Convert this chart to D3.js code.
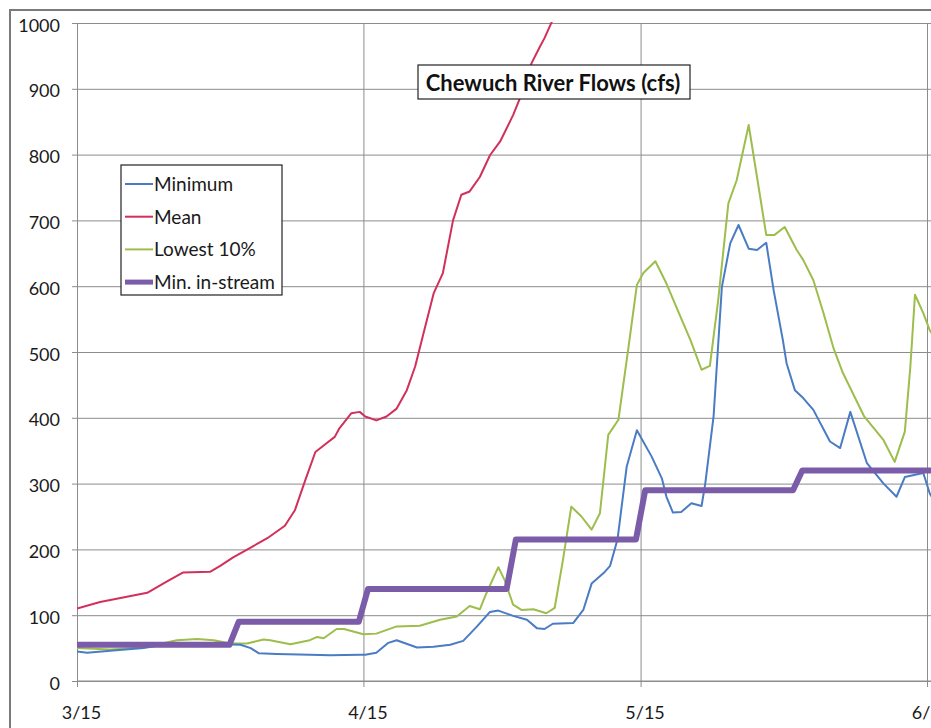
<!DOCTYPE html>
<html><head><meta charset="utf-8">
<script src="https://cdn.jsdelivr.net/npm/d3@7"></script>
<style>body{margin:0;background:#fff}svg{display:block}</style>
</head><body>
<svg id="chart" width="931" height="728"></svg>
<script>
// ---------- data (days since 3/15, values in cfs) ----------
const chartTitle = "Chewuch River Flows (cfs)";
const xTickDays = [0, 31, 61, 92];
const xTickLabels = ["3/15", "4/15", "5/15", "6/15"];
const yTickValues = [0, 100, 200, 300, 400, 500, 600, 700, 800, 900, 1000];
const seriesNames = ["Minimum", "Mean", "Lowest 10%", "Min. in-stream"];

const minimumDays = [0,1.1,3.6,7.2,9.4,10.8,15.9,17.7,18.8,19.7,21.6,25.2,27.4,30.7,31.2,32.4,33.7,34.6,36.8,38.6,40.4,41.8,43.3,44.7,45.6,47.2,48.7,49.8,50.6,51.5,53.7,54.8,55.7,57.0,57.7,58.5,59.5,60.6,62.2,63.3,63.8,64.5,65.4,66.5,67.6,68.0,68.9,69.8,70.7,71.6,72.7,73.6,74.6,75.4,76.4,76.8,77.7,78.6,79.7,81.5,82.6,83.7,85.5,87.3,88.7,89.6,91.6,92.3,93.0];
const minimumValues = [45,43,46,50,55,56,56,55,50,42,41,40,39,40,40,43,58,62,51,52,55,61,83,105,107,99,93,80,79,87,88,108,148,164,175,215,326,381,341,308,280,256,257,270,266,300,402,599,665,693,657,655,666,594,518,483,442,430,412,364,354,409,331,300,280,310,316,285,268];

const meanDays = [0,2.5,7.6,9.7,11.5,14.4,15.5,16.9,18.7,20.6,22.5,23.6,24.7,25.8,26.8,27.9,28.4,29.7,30.6,31.2,32.4,33.5,34.6,35.7,36.6,37.5,38.6,39.6,40.7,41.6,42.5,43.6,44.7,45.8,47.2,48.3,49.2,50.1,50.6,51.4,52.0];
const meanValues = [110,120,134,151,165,166,175,188,202,217,236,260,305,348,359,371,384,407,409,402,396,402,414,442,478,528,589,620,700,739,744,766,799,820,860,898,939,964,977,1002,1040];

const lowestDays = [0,3.6,7.2,10.8,13.0,14.8,16.6,18.4,20.2,20.9,23.1,25.2,26.0,26.7,28.1,28.9,31.0,32.4,34.6,37.1,39.3,41.1,42.5,43.6,44.3,45.6,46.3,47.2,48.1,49.4,50.8,51.7,52.6,53.5,54.6,55.7,56.6,57.5,58.6,59.7,60.6,61.3,62.6,63.8,65.3,66.4,67.6,68.5,69.4,70.5,71.4,72.7,73.6,74.6,75.5,76.6,77.9,78.6,79.7,80.8,81.9,82.9,85.2,87.3,88.5,89.6,90.2,90.7,91.6,92.3,93.0];
const lowestValues = [50,48,51,62,64,62,57,57,63,62,56,62,67,65,79,79,71,72,83,84,93,98,114,109,133,173,153,116,108,109,103,111,184,265,250,230,255,374,397,508,602,620,638,604,554,518,473,479,579,726,761,845,766,678,678,690,655,640,609,559,505,468,402,366,333,379,478,587,559,533,518];

const instreamDays = [0,16.5,17.5,30.5,31.5,46.5,47.5,60.5,61.5,77.5,78.5,95];
const instreamValues = [55,55,90,90,140,140,215,215,290,290,320,320];

const seriesColors = ["#4a7cc4", "#d2305a", "#9dbd4c", "#7a5ca8"];
const seriesWidths = [2, 2, 2, 6];

// ---------- layout ----------
(function draw() {
  const svg = d3.select("#chart");
  const pLeft = 77, pTop = 23, pBottom = 681, pRight = 945;
  const x = d3.scaleLinear().domain([0, 92]).range([77, 927]);
  const y = d3.scaleLinear().domain([0, 1000]).range([pBottom, pTop]);
  const font = "Lato, 'Open Sans', sans-serif";

  // outer chart border
  svg.append("rect").attr("x", 10).attr("y", 10).attr("width", 960).attr("height", 760)
    .attr("fill", "none").attr("stroke", "#7a7a7a").attr("stroke-width", 2);

  // horizontal gridlines
  svg.append("g").attr("transform", `translate(${pLeft},0)`)
    .call(d3.axisLeft(y).tickValues(yTickValues).tickSize(-(pRight - pLeft)).tickFormat(""))
    .call(g => g.select(".domain").remove())
    .call(g => g.selectAll("line").attr("stroke", "#8c8c8c").attr("stroke-width", 1));

  // vertical gridlines
  svg.append("g").attr("transform", `translate(0,${pBottom})`)
    .call(d3.axisBottom(x).tickValues(xTickDays).tickSize(-(pBottom - pTop)).tickFormat(""))
    .call(g => g.select(".domain").remove())
    .call(g => g.selectAll("line").attr("stroke", "#8c8c8c").attr("stroke-width", 1));

  // y axis (ticks + labels)
  svg.append("g").attr("transform", `translate(${pLeft},0)`)
    .call(d3.axisLeft(y).tickValues(yTickValues).tickSize(5).tickPadding(12).tickFormat(d3.format("d")))
    .call(g => g.select(".domain").attr("stroke", "#8c8c8c"))
    .call(g => g.selectAll("line").attr("stroke", "#8c8c8c"))
    .call(g => g.selectAll("text").attr("font-family", font).attr("font-size", 18)
      .attr("fill", "#1a1a1a").attr("dy", "0.45em"));

  // x axis (ticks + labels)
  svg.append("g").attr("transform", `translate(0,${pBottom})`)
    .call(d3.axisBottom(x).tickValues(xTickDays).tickSize(6).tickPadding(19)
      .tickFormat((d, i) => xTickLabels[i]))
    .call(g => g.select(".domain").attr("stroke", "#8c8c8c").attr("d", `M${pLeft},0H${pRight}`))
    .call(g => g.selectAll("line").attr("stroke", "#8c8c8c"))
    .call(g => g.selectAll("text").attr("font-family", font).attr("font-size", 18)
      .attr("fill", "#1a1a1a").attr("dx", 4));

  // clip for plot
  svg.append("clipPath").attr("id", "plotClip").append("rect")
    .attr("x", pLeft).attr("y", pTop - 1).attr("width", pRight - pLeft).attr("height", pBottom - pTop + 4);

  const line = d3.line().x(d => x(d[0])).y(d => y(d[1]));
  const seriesData = [
    d3.zip(minimumDays, minimumValues),
    d3.zip(meanDays, meanValues),
    d3.zip(lowestDays, lowestValues),
    d3.zip(instreamDays, instreamValues)
  ];
  const plot = svg.append("g").attr("clip-path", "url(#plotClip)");
  [1, 2, 0, 3].forEach(i => {
    plot.append("path").datum(seriesData[i]).attr("d", line)
      .attr("fill", "none").attr("stroke", seriesColors[i])
      .attr("stroke-width", seriesWidths[i]).attr("stroke-linejoin", "round");
  });

  // title box
  const tg = svg.append("g");
  tg.append("rect").attr("x", 418).attr("y", 65).attr("width", 272).attr("height", 34)
    .attr("fill", "#fff").attr("stroke", "#222").attr("stroke-width", 1.2);
  tg.append("text").attr("x", 553).attr("y", 91).attr("text-anchor", "middle")
    .attr("font-family", font).attr("font-weight", "bold").attr("font-size", 22)
    .attr("fill", "#111").text(chartTitle);

  // legend
  const lg = svg.append("g");
  lg.append("rect").attr("x", 121).attr("y", 165).attr("width", 161).attr("height", 130)
    .attr("fill", "#fff").attr("stroke", "#222").attr("stroke-width", 1.2);
  seriesNames.forEach((name, i) => {
    const cy = 184 + i * 32.7;
    lg.append("line").attr("x1", 125).attr("x2", 153).attr("y1", cy).attr("y2", cy)
      .attr("stroke", seriesColors[i]).attr("stroke-width", i === 3 ? 5 : 2);
    lg.append("text").attr("x", 154).attr("y", cy + 7).attr("font-family", font)
      .attr("font-size", 19).attr("fill", "#1a1a1a").text(name);
  });
})();
</script>
</body></html>
